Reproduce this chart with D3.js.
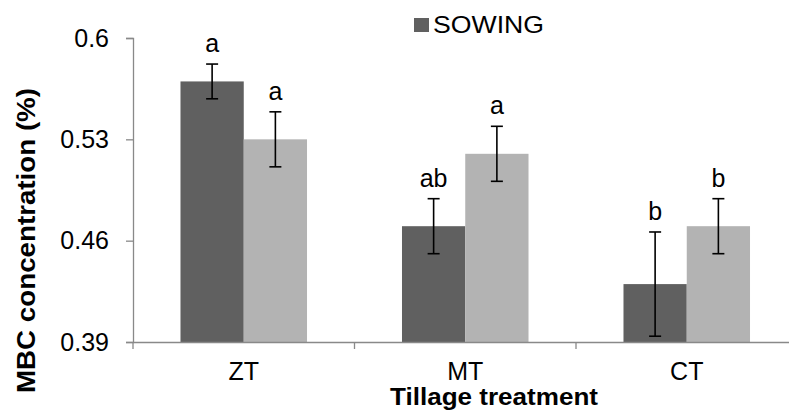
<!DOCTYPE html>
<html>
<head>
<meta charset="utf-8">
<script src="https://cdn.jsdelivr.net/npm/d3@7"></script>
<style>
  body { margin: 0; background: #fff; }
  svg { display: block; font-family: "Liberation Sans", Arial, sans-serif; }
</style>
</head>
<body>
<div id="chart"></div>
<script>
const width = 789;
const height = 414;

// Data
const categories = ['ZT', 'MT', 'CT'];
const seriesNames = ['SOWING', 'HARVEST'];
const sowing = [0.570, 0.470, 0.430];
const harvest = [0.530, 0.520, 0.470];
const sowingErr = [0.012, 0.019, 0.036];
const harvestErr = [0.019, 0.019, 0.019];
const sowingLetters = ['a', 'ab', 'b'];
const harvestLetters = ['a', 'a', 'b'];
const yTicks = [0.39, 0.46, 0.53, 0.6];
const colors = ['#606060', '#b3b3b3'];

const rows = categories.map((c, i) => ({
  cat: c,
  bars: [
    { s: 0, v: sowing[i], e: sowingErr[i], l: sowingLetters[i] },
    { s: 1, v: harvest[i], e: harvestErr[i], l: harvestLetters[i] }
  ]
}));

const svg = d3.select('#chart').append('svg')
  .attr('width', width)
  .attr('height', height);

const plotLeft = 133;
const plotRight = 797.5;
const plotTop = 38;
const plotBottom = 342;

// Scales
const x0 = d3.scaleBand()
  .domain(categories)
  .range([plotLeft, plotRight]);

const bw = x0.bandwidth();
const x1 = d3.scaleBand()
  .domain([0, 1])
  .range([bw * 0.2144, bw * 0.7856]);

const y = d3.scaleLinear()
  .domain([0.39, 0.6])
  .range([plotBottom, plotTop]);

// Bars
const group = svg.selectAll('.grp')
  .data(rows)
  .enter().append('g')
    .attr('class', 'grp')
    .attr('transform', d => `translate(${x0(d.cat)},0)`);

group.selectAll('rect')
  .data(d => d.bars)
  .enter().append('rect')
    .attr('x', d => x1(d.s))
    .attr('y', d => y(d.v))
    .attr('width', x1.bandwidth())
    .attr('height', d => y(0.39) - y(d.v))
    .style('fill', d => colors[d.s]);

// Error bars
const err = group.selectAll('.err')
  .data(d => d.bars)
  .enter().append('g')
    .attr('class', 'err')
    .attr('stroke', '#000')
    .attr('stroke-width', 1.6);

const cx = d => x1(d.s) + x1.bandwidth() / 2;
err.append('line')
  .attr('x1', cx).attr('x2', cx)
  .attr('y1', d => y(d.v + d.e))
  .attr('y2', d => y(d.v - d.e));
err.append('line')
  .attr('x1', d => cx(d) - 6).attr('x2', d => cx(d) + 6)
  .attr('y1', d => y(d.v + d.e)).attr('y2', d => y(d.v + d.e));
err.append('line')
  .attr('x1', d => cx(d) - 6).attr('x2', d => cx(d) + 6)
  .attr('y1', d => y(d.v - d.e)).attr('y2', d => y(d.v - d.e));

// Significance letters
group.selectAll('.lbl')
  .data(d => d.bars)
  .enter().append('text')
    .attr('class', 'lbl')
    .attr('x', cx)
    .attr('y', d => y(d.v + d.e) - 12)
    .attr('text-anchor', 'middle')
    .attr('font-size', 25)
    .attr('fill', '#000')
    .text(d => d.l);

// Y axis
const yAxis = svg.append('g')
  .attr('transform', `translate(${plotLeft},0)`)
  .call(d3.axisLeft(y).tickValues(yTicks).tickFormat(d => String(d)).tickSize(7).tickPadding(17));
yAxis.select('.domain').attr('stroke', '#898989').attr('stroke-width', 1.3);
yAxis.selectAll('.tick line').attr('stroke', '#898989').attr('stroke-width', 1.3);
yAxis.selectAll('text')
  .attr('font-size', 25)
  .attr('font-family', '"Liberation Sans", Arial, sans-serif')
  .attr('fill', '#000');

// X axis
const xAxis = svg.append('g')
  .attr('transform', `translate(0,${plotBottom})`)
  .call(d3.axisBottom(x0).tickSize(0).tickPadding(20));
xAxis.select('.domain').attr('stroke', '#898989').attr('stroke-width', 1.3);
xAxis.selectAll('text')
  .attr('font-size', 25)
  .attr('font-family', '"Liberation Sans", Arial, sans-serif')
  .attr('fill', '#000');

// category separators
svg.append('g')
  .selectAll('line')
  .data(categories)
  .enter().append('line')
    .attr('x1', d => x0(d)).attr('x2', d => x0(d))
    .attr('y1', plotBottom).attr('y2', plotBottom + 7)
    .attr('stroke', '#898989')
    .attr('stroke-width', 1.3);

// Axis titles (the original text is a little stretched sideways)
svg.append('text')
  .attr('x', 390)
  .attr('y', 405)
  .attr('font-size', 23)
  .attr('font-weight', 'bold')
  .attr('textLength', 208)
  .attr('lengthAdjust', 'spacingAndGlyphs')
  .text('Tillage treatment');

svg.append('text')
  .attr('transform', 'translate(35,393) rotate(-90)')
  .attr('font-size', 25)
  .attr('font-weight', 'bold')
  .attr('textLength', 305)
  .attr('lengthAdjust', 'spacingAndGlyphs')
  .text('MBC concentration (%)');

// Legend (only the first series is shown)
const legend = svg.append('g')
  .attr('transform', 'translate(414,18)');
legend.append('rect')
  .attr('width', 15)
  .attr('height', 14)
  .style('fill', colors[0]);
legend.append('text')
  .attr('x', 19)
  .attr('y', 15)
  .attr('font-size', 24)
  .attr('textLength', 111)
  .attr('lengthAdjust', 'spacingAndGlyphs')
  .text(seriesNames[0]);
</script>
</body>
</html>
